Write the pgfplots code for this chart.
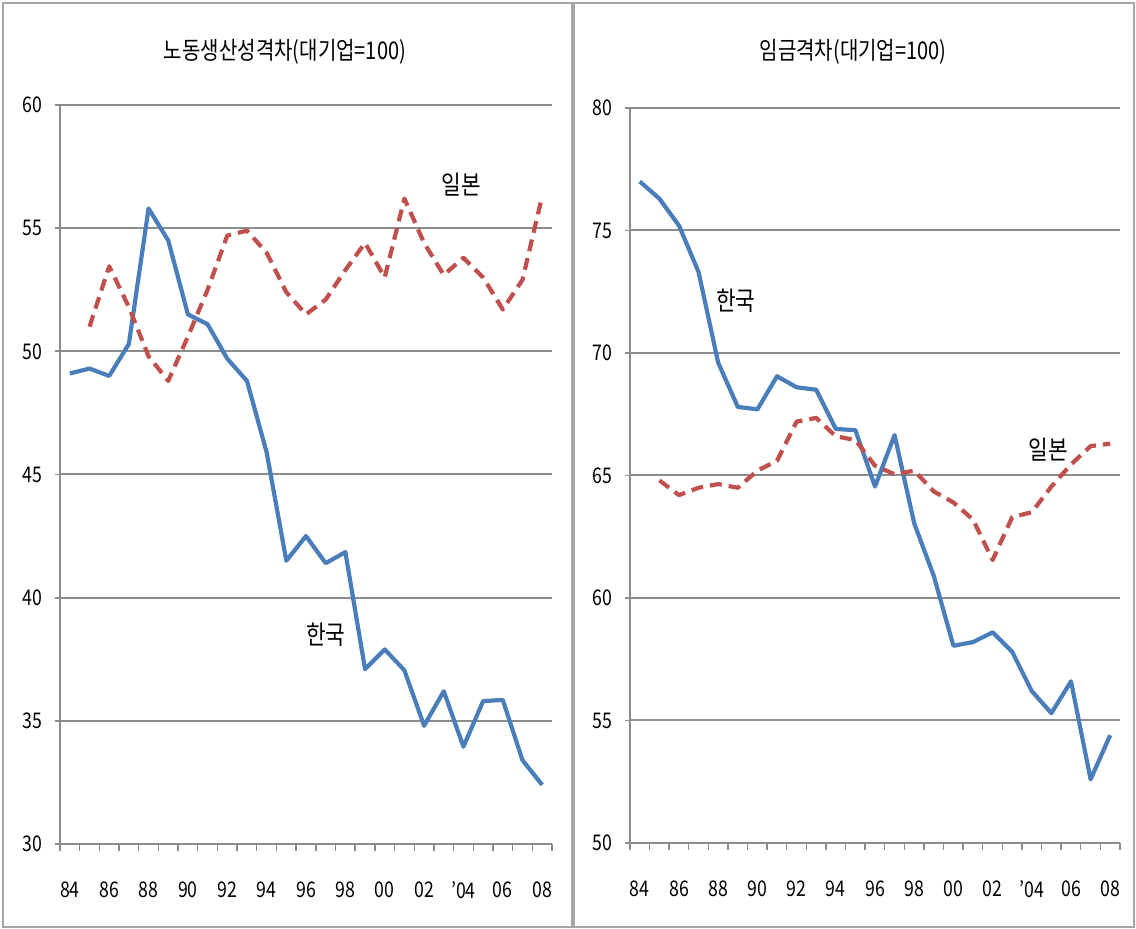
\documentclass[border=0pt]{standalone}
\usepackage{pgfplots}
\pgfplotsset{compat=1.18}
\usepackage{fontspec}
\setmainfont{Noto Sans CJK KR}[FakeStretch=0.82]
\definecolor{kblue}{HTML}{4A7EBB}
\definecolor{jred}{HTML}{C0504D}
\definecolor{gridc}{HTML}{8C8C8C}
\pgfplotsset{
  panel/.style={
    scale only axis,
    xmin=1983.5, xmax=2008.5,
    axis lines=left,
    axis line style={draw=gridc, line width=0.9pt, -},
    xtick={1984,1986,...,2008},
    xticklabels={84,86,88,90,92,94,96,98,00,02,{\char"0027}04,06,08},
    minor xtick={1983.5,1984.5,...,2008.6},
    major x tick style={draw=none},
    minor x tick style={draw=gridc, line width=0.7pt},
    minor tick length=3.5pt,
    tick align=outside,
    major tick length=2.5pt,
    y tick style={draw=gridc, line width=0.9pt},
    ymajorgrids,
    grid style={draw=gridc, line width=1pt},
    /pgf/number format/assume math mode=true,
    tick label style={font=\fontsize{10.8}{12}\selectfont, text=black},
    xticklabel style={yshift=-13pt},
    yticklabel style={xshift=-3pt},
    clip=false,
  },
  korea/.style={draw=kblue, line width=2.1pt, no markers, line join=round},
  japan/.style={draw=jred, line width=2.1pt, no markers, dash pattern=on 6pt off 3.5pt, line join=round},
}
\begin{document}
\begin{tikzpicture}
\path[use as bounding box] (0,0) rectangle (568pt,-464.5pt);
\begin{scope}[x=0.5pt,y=-0.5pt]
\draw[gray!70, line width=1pt] (3,3) rectangle (572,927);
\draw[gray!70, line width=1pt] (574,3) rectangle (1134,927);
\node[font=\fontsize{12.2}{14}\selectfont] at (285,52) {노동생산성격차(대기업=100)};
\node[font=\fontsize{12.2}{14}\selectfont] at (853,52) {임금격차(대기업=100)};
\end{scope}

\begin{axis}[panel, at={(30pt,-422pt)}, anchor=south west,
  width=246pt, height=369.5pt, ymin=30, ymax=60, ytick={30,35,...,60}]
\addplot[korea] coordinates {
(1984,49.1) (1985,49.3) (1986,49.0) (1987,50.3) (1988,55.8) (1989,54.5)
(1990,51.5) (1991,51.1) (1992,49.7) (1993,48.8) (1994,45.9) (1995,41.5)
(1996,42.5) (1997,41.4) (1998,41.85) (1999,37.1) (2000,37.9) (2001,37.05)
(2002,34.8) (2003,36.2) (2004,33.95) (2005,35.8) (2006,35.85) (2007,33.4) (2008,32.4)};
\addplot[japan] coordinates {
(1985,51.0) (1986,53.45) (1987,51.8) (1988,49.8) (1989,48.8) (1990,50.6)
(1991,52.5) (1992,54.7) (1993,54.9) (1994,54.0) (1995,52.4) (1996,51.5)
(1997,52.1) (1998,53.3) (1999,54.4) (2000,53.0) (2001,56.2) (2002,54.4)
(2003,53.1) (2004,53.8) (2005,53.0) (2006,51.7) (2007,52.9) (2008,56.3)};
\node[font=\fontsize{13}{15}\selectfont] at (axis cs:2003.9,56.75) {일본};
\node[font=\fontsize{13}{15}\selectfont] at (axis cs:1997,38.5) {한국};
\end{axis}

\begin{axis}[panel, at={(315pt,-421.5pt)}, anchor=south west,
  width=245pt, height=367.5pt, ymin=50, ymax=80, ytick={50,55,...,80}]
\addplot[korea] coordinates {
(1984,77.0) (1985,76.3) (1986,75.2) (1987,73.3) (1988,69.6) (1989,67.8)
(1990,67.7) (1991,69.05) (1992,68.6) (1993,68.5) (1994,66.9) (1995,66.85)
(1996,64.55) (1997,66.65) (1998,63.05) (1999,60.9) (2000,58.05) (2001,58.2)
(2002,58.6) (2003,57.8) (2004,56.2) (2005,55.3) (2006,56.6) (2007,52.6) (2008,54.4)};
\addplot[japan] coordinates {
(1985,64.8) (1986,64.2) (1987,64.5) (1988,64.65) (1989,64.5) (1990,65.2)
(1991,65.6) (1992,67.2) (1993,67.35) (1994,66.6) (1995,66.45) (1996,65.4)
(1997,65.05) (1998,65.2) (1999,64.35) (2000,63.9) (2001,63.2) (2002,61.55)
(2003,63.3) (2004,63.5) (2005,64.55) (2006,65.45) (2007,66.2) (2008,66.3)};
\node[font=\fontsize{13}{15}\selectfont] at (axis cs:1988.9,72.15) {한국};
\node[font=\fontsize{13}{15}\selectfont] at (axis cs:2004.85,66.05) {일본};
\end{axis}
\end{tikzpicture}
\end{document}
